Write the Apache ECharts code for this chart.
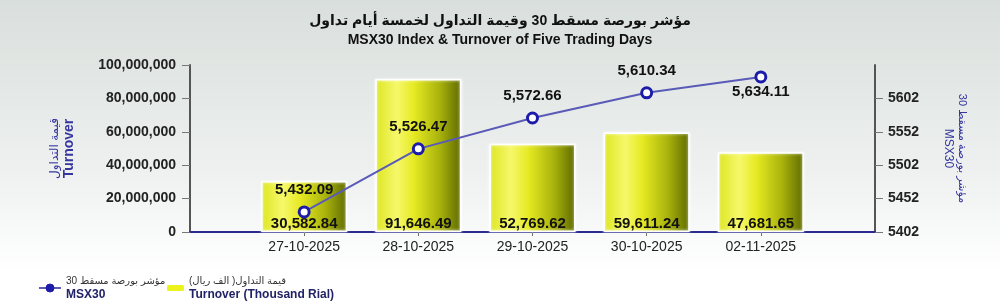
<!DOCTYPE html>
<html><head><meta charset="utf-8">
<script src="https://cdn.jsdelivr.net/npm/echarts@6/dist/echarts.min.js"></script>
<style>html,body{margin:0;padding:0;}#c{width:1000px;height:302px;}</style>
</head><body><div id="c"></div>
<script>
const dates = ['27-10-2025', '28-10-2025', '29-10-2025', '30-10-2025', '02-11-2025'];
const turnover = [30582.84, 91646.49, 52769.62, 59611.24, 47681.65]; // thousand rial
const msx30 = [5432.09, 5526.47, 5572.66, 5610.34, 5634.11];
const leftTicks = [0, 20000, 40000, 60000, 80000, 100000];
const rightTicks = [5402, 5452, 5502, 5552, 5602];

const FONT = 'Liberation Sans, Arial, DejaVu Sans, sans-serif';
const fmt2 = v => Number(v).toLocaleString('en-US', {minimumFractionDigits: 2, maximumFractionDigits: 2});
const cats = [''].concat(dates, ['']);
const barData = [null].concat(turnover, [null]);
const lineData = [null].concat(msx30.map((v, i) => i === msx30.length - 1
  ? {value: v, label: {position: 'bottom', distance: 1}} : v), [null]);

const legendRich = {
  a: {fontSize: 10, color: '#333', fontFamily: FONT, lineHeight: 14, align: 'left'},
  b: {fontSize: 12, fontWeight: 'bold', color: '#222266', fontFamily: FONT, lineHeight: 14, align: 'left'}
};

const chart = echarts.init(document.getElementById('c'), null, {renderer: 'canvas'});
chart.setOption({
  animation: false,
  backgroundColor: {type: 'linear', x: 0, y: 0, x2: 0, y2: 1, colorStops: [
    {offset: 0, color: '#d9dfdc'}, {offset: 0.55, color: '#edf0ef'}, {offset: 0.9, color: '#ffffff'}, {offset: 1, color: '#ffffff'}]},
  title: [
    {text: 'مؤشر بورصة مسقط 30 وقيمة التداول لخمسة أيام تداول', left: 'center', top: 9,
     textStyle: {fontFamily: FONT, fontSize: 14, fontWeight: 'bold', color: '#111'}},
    {text: 'MSX30 Index & Turnover of Five Trading Days', left: 'center', top: 28,
     textStyle: {fontFamily: FONT, fontSize: 14, fontWeight: 'bold', color: '#111'}}
  ],
  legend: [
    {data: ['MSX30'], left: 38, top: 276, padding: 0, itemWidth: 22, itemHeight: 10, itemGap: 5,
     itemStyle: {color: '#1c1ca8', borderColor: '#1c1ca8', borderWidth: 1},
     formatter: () => '{a|مؤشر بورصة مسقط 30}\n{b|MSX30}',
     textStyle: {rich: legendRich}},
    {data: ['Turnover'], left: 167, top: 276, padding: 0, itemWidth: 17, itemHeight: 6, itemGap: 5,
     itemStyle: {color: '#eef21c', borderWidth: 0},
     formatter: () => '{a|قيمة التداول( الف ريال)}\n{b|Turnover (Thousand Rial)}',
     textStyle: {rich: legendRich}}
  ],
  grid: {left: 190, right: 125, top: 65, bottom: 70},
  xAxis: {
    type: 'category', data: cats, boundaryGap: false,
    axisLine: {lineStyle: {color: '#2a2a90', width: 2}},
    axisTick: {interval: i => i > 0 && i < cats.length - 1, length: 4, lineStyle: {color: '#666'}},
    axisLabel: {fontFamily: FONT, fontSize: 14, color: '#222', margin: 8}
  },
  yAxis: [
    {type: 'value', min: 0, max: 100000, interval: 20000,
     name: '{a|قيمة التداول}\n{b|Turnover}', nameLocation: 'middle', nameRotate: 90, nameGap: 113,
     nameTextStyle: {rich: {
       a: {fontFamily: FONT, fontSize: 12, color: '#3535a0', lineHeight: 15},
       b: {fontFamily: FONT, fontSize: 14, fontWeight: 'bold', color: '#3535a0', lineHeight: 15}}},
     axisLine: {show: true, lineStyle: {color: '#555', width: 2}},
     axisTick: {show: true, length: 8, lineStyle: {color: '#777'}},
     splitLine: {show: false},
     axisLabel: {fontFamily: FONT, fontSize: 14, fontWeight: 'bold', color: '#222', margin: 14,
                 formatter: v => (v * 1000).toLocaleString('en-US')}},
    {type: 'value', min: 5402, max: 5652, interval: 50, position: 'right',
     name: '{a|مؤشر بورصة مسقط 30}\n{b|MSX30}', nameLocation: 'middle', nameRotate: -90, nameGap: 66,
     nameTextStyle: {rich: {
       a: {fontFamily: FONT, fontSize: 11, color: '#3535a0', lineHeight: 14},
       b: {fontFamily: FONT, fontSize: 12, color: '#3535a0', lineHeight: 14}}},
     axisLine: {show: true, lineStyle: {color: '#555', width: 2}},
     axisTick: {show: true, length: 8, lineStyle: {color: '#777'}},
     splitLine: {show: false},
     axisLabel: {fontFamily: FONT, fontSize: 14, fontWeight: 'bold', color: '#222', margin: 13,
                 showMaxLabel: false, formatter: v => String(v)}}
  ],
  series: [
    {name: 'Turnover', type: 'bar', data: barData, barWidth: 86, yAxisIndex: 0, z: 2,
     itemStyle: {
       color: {type: 'linear', x: 0, y: 0, x2: 1, y2: 0, colorStops: [
         {offset: 0, color: '#dde622'}, {offset: 0.25, color: '#f6f86a'}, {offset: 0.45, color: '#e6ea22'},
         {offset: 0.75, color: '#a8b20c'}, {offset: 1, color: '#5e6a00'}]},
       borderColor: '#ffffff', borderWidth: 1.5,
       shadowColor: 'rgba(255,255,255,0.9)', shadowBlur: 3
     },
     label: {show: true, position: 'insideBottom', distance: 1, formatter: p => fmt2(p.value),
             fontFamily: FONT, fontSize: 15, fontWeight: 'bold', color: '#111'}},
    {name: 'MSX30', type: 'line', data: lineData, yAxisIndex: 1, z: 5,
     connectNulls: false,
     lineStyle: {color: '#5a5ab8', width: 2},
     symbol: 'circle', symbolSize: 10,
     itemStyle: {color: '#ffffff', borderColor: '#1c1ca8', borderWidth: 3},
     label: {show: true, position: 'top', distance: 8, formatter: p => fmt2(p.value),
             fontFamily: FONT, fontSize: 15, fontWeight: 'bold', color: '#111'}}
  ]
});
</script></body></html>
